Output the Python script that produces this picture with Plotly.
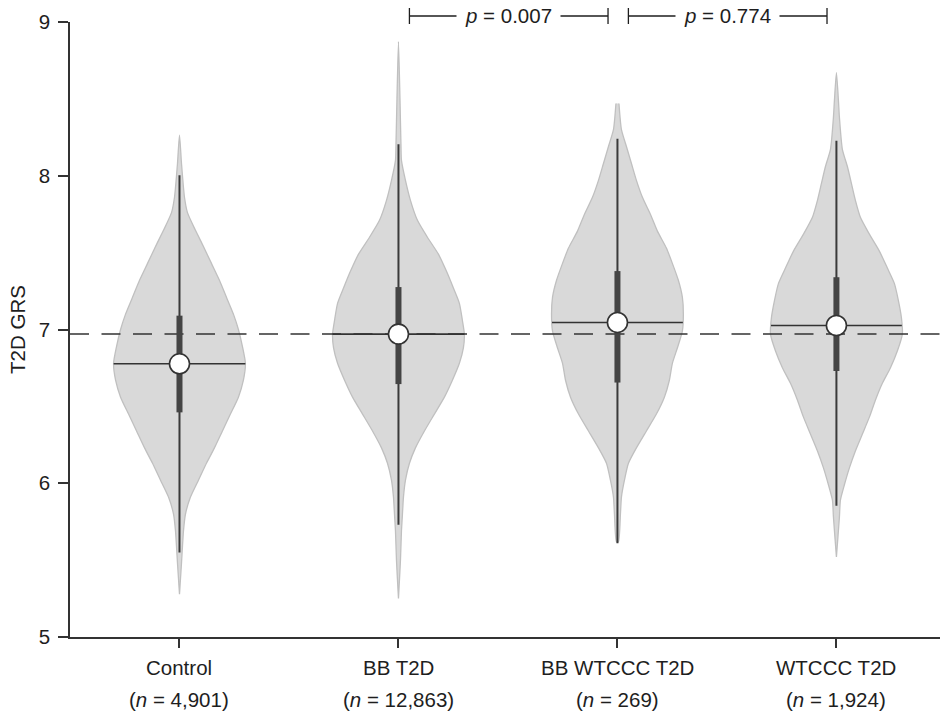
import numpy as np
import plotly.graph_objects as go

# ---------------- data ----------------
groups = ["Control", "BB T2D", "BB WTCCC T2D", "WTCCC T2D"]
n_labels = ["4,901", "12,863", "269", "1,924"]

# violin outlines: GRS grid and relative density (half-width, arbitrary units)
ctrl_y = [8.264, 8.08, 7.86, 7.76, 7.645, 7.54, 7.43, 7.32, 7.21, 7.10, 7.00, 6.89, 6.78,
          6.67, 6.56, 6.45, 6.34, 6.23, 6.13, 6.02, 5.91, 5.80, 5.69, 5.48, 5.278]
ctrl_d = [0, 2, 5, 8, 16, 24, 32, 40, 47, 54, 59, 63, 66,
          64, 59, 51, 43, 35, 27, 19, 11, 6, 4, 2, 0]

bbt2d_y = [8.873, 8.50, 8.20, 8.10, 7.97, 7.84, 7.71, 7.60, 7.49, 7.38, 7.27, 7.17, 7.06, 6.97,
           6.88, 6.78, 6.67, 6.56, 6.45, 6.34, 6.23, 6.13, 6.02, 5.91, 5.80, 5.69, 5.50, 5.25]
bbt2d_d = [0, 1.5, 2.5, 3, 7, 12, 19, 29, 40, 48, 55, 61, 64, 66,
           65, 61, 54, 46, 36, 26, 17, 11, 7, 5, 4, 3, 2, 0]

bbw_y = [8.47, 8.30, 8.19, 8.08, 7.97, 7.86, 7.75, 7.64, 7.53, 7.43, 7.32, 7.21, 7.10, 6.99,
         6.88, 6.78, 6.67, 6.56, 6.45, 6.34, 6.23, 6.13, 6.02, 5.91, 5.80, 5.62]
bbw_d = [1.5, 4, 9, 14, 19, 25, 33, 40, 49, 55, 61, 65, 66, 65,
         60, 55, 52, 47, 39, 29, 19, 11, 7, 4, 3, 1]

wt_y = [8.67, 8.49, 8.38, 8.17, 8.06, 7.95, 7.84, 7.73, 7.62, 7.51, 7.40, 7.30, 7.19, 7.08, 6.97,
        6.86, 6.75, 6.65, 6.54, 6.43, 6.32, 6.21, 6.10, 5.99, 5.89, 5.78, 5.52]
wt_d = [0, 2, 3, 6, 11, 15, 19, 24, 33, 43, 51, 58, 62, 65, 66,
        61, 54, 46, 39, 33, 26, 19, 13, 8, 4, 3, 0]

whisker_lo = [5.549, 5.73, 5.61, 5.853]
q1 = [6.461, 6.645, 6.655, 6.73]
median = [6.777, 6.97, 7.046, 7.026]
q3 = [7.09, 7.276, 7.38, 7.34]
whisker_hi = [8.003, 8.205, 8.24, 8.227]

ref_line = 6.97
p_pairs = [(1, 2), (2, 3)]
p_values = ["0.007", "0.774"]

y_ticks = [5, 6, 7, 8, 9]

# ---------------- layout constants ----------------
W, H = 940, 715
ML, MR, MT, MB = 70, 0, 22, 78
X_RANGE = [-0.5, 3.473]
Y_RANGE = [5, 9]
HALF = 0.301          # max half-width of a violin (category units)
FONT = "Liberation Sans, Arial, sans-serif"
FS = 20.5
DARK = "#333333"
TXT = "#1e1e1e"
plot_h = H - MT - MB

violins = [(ctrl_y, ctrl_d), (bbt2d_y, bbt2d_d), (bbw_y, bbw_d), (wt_y, wt_d)]

fig = go.Figure()

# violin bodies
for i, (vy, vd) in enumerate(violins):
    vy = np.array(vy, float)
    vd = np.array(vd, float)
    w = vd / vd.max() * HALF
    xs = np.concatenate([i + w, (i - w)[::-1]])
    ys = np.concatenate([vy, vy[::-1]])
    fig.add_trace(go.Scatter(
        x=xs, y=ys, mode="lines", fill="toself",
        fillcolor="#d9d9d9", line=dict(color="#c0c0c0", width=1.3, shape="spline", smoothing=0.6),
        hoverinfo="skip", showlegend=False))

# dashed reference line
fig.add_trace(go.Scatter(
    x=X_RANGE, y=[ref_line, ref_line], mode="lines",
    line=dict(color=DARK, width=1.5, dash="19px,12.5px"),
    hoverinfo="skip", showlegend=False))

# median lines spanning the violin width
for i, (vy, vd) in enumerate(violins):
    vy = np.array(vy, float)
    vd = np.array(vd, float)
    order = np.argsort(vy)
    wm = np.interp(median[i], vy[order], (vd / vd.max())[order]) * HALF
    fig.add_trace(go.Scatter(
        x=[i - wm, i + wm], y=[median[i], median[i]], mode="lines",
        line=dict(color=DARK, width=1.6), hoverinfo="skip", showlegend=False))

# whiskers
for i in range(len(groups)):
    fig.add_trace(go.Scatter(
        x=[i, i], y=[whisker_lo[i], whisker_hi[i]], mode="lines",
        line=dict(color="#3a3a3a", width=2), hoverinfo="skip", showlegend=False))
# boxes
for i in range(len(groups)):
    fig.add_trace(go.Scatter(
        x=[i, i], y=[q1[i], q3[i]], mode="lines",
        line=dict(color="#444444", width=6), hoverinfo="skip", showlegend=False))
# median markers
fig.add_trace(go.Scatter(
    x=list(range(len(groups))), y=median, mode="markers",
    marker=dict(size=20, color="white", line=dict(color=DARK, width=1.6)),
    hoverinfo="skip", showlegend=False))

annotations = []
# category labels (two lines)
for i, (g, n) in enumerate(zip(groups, n_labels)):
    annotations.append(dict(x=i, xref="x", y=0, yref="paper", yanchor="middle",
                            yshift=-30, text=g, showarrow=False,
                            font=dict(family=FONT, size=FS, color=TXT)))
    annotations.append(dict(x=i, xref="x", y=0, yref="paper", yanchor="middle",
                            yshift=-62, text=f"(<i>n</i> = {n})", showarrow=False,
                            font=dict(family=FONT, size=FS, color=TXT)))

# p-value brackets
shapes = []
br_y = 1 + 6 / plot_h
cap_top = 1 + 14 / plot_h
cap_bot = 1 - 2 / plot_h
for (a, b), pv in zip(p_pairs, p_values):
    x0, x1 = a + 0.05, b - 0.043
    shapes.append(dict(type="line", xref="x", yref="paper", x0=x0, x1=x1, y0=br_y, y1=br_y,
                       line=dict(color=TXT, width=1.3)))
    for xx in (x0, x1):
        shapes.append(dict(type="line", xref="x", yref="paper", x0=xx, x1=xx,
                           y0=cap_bot, y1=cap_top, line=dict(color=TXT, width=1.3)))
    annotations.append(dict(x=(x0 + x1) / 2, xref="x", y=br_y, yref="paper", yanchor="middle",
                            text=f"<i>p</i> = {pv}", showarrow=False, bgcolor="white",
                            borderpad=8, font=dict(family=FONT, size=FS, color=TXT)))

fig.update_layout(
    width=W, height=H,
    margin=dict(l=ML, r=MR, t=MT, b=MB, pad=0),
    plot_bgcolor="white", paper_bgcolor="white",
    showlegend=False,
    font=dict(family=FONT, size=FS, color=TXT),
    xaxis=dict(range=X_RANGE, tickvals=list(range(len(groups))), showticklabels=False,
               ticks="outside", ticklen=9, tickwidth=1.5, tickcolor=DARK,
               showline=True, linecolor=DARK, linewidth=1.5,
               showgrid=False, zeroline=False, fixedrange=True),
    yaxis=dict(range=Y_RANGE, tickvals=y_ticks, ticktext=[str(t) for t in y_ticks],
               ticks="outside", ticklen=10, tickwidth=1.5, tickcolor=DARK,
               ticklabelstandoff=4,
               showline=True, linecolor=DARK, linewidth=1.5,
               showgrid=False, zeroline=False,
               title=dict(text="T2D GRS", standoff=8, font=dict(family=FONT, size=FS, color=TXT)),
               tickfont=dict(family=FONT, size=FS, color=TXT)),
    shapes=shapes, annotations=annotations,
)

fig.write_html("out.html")
